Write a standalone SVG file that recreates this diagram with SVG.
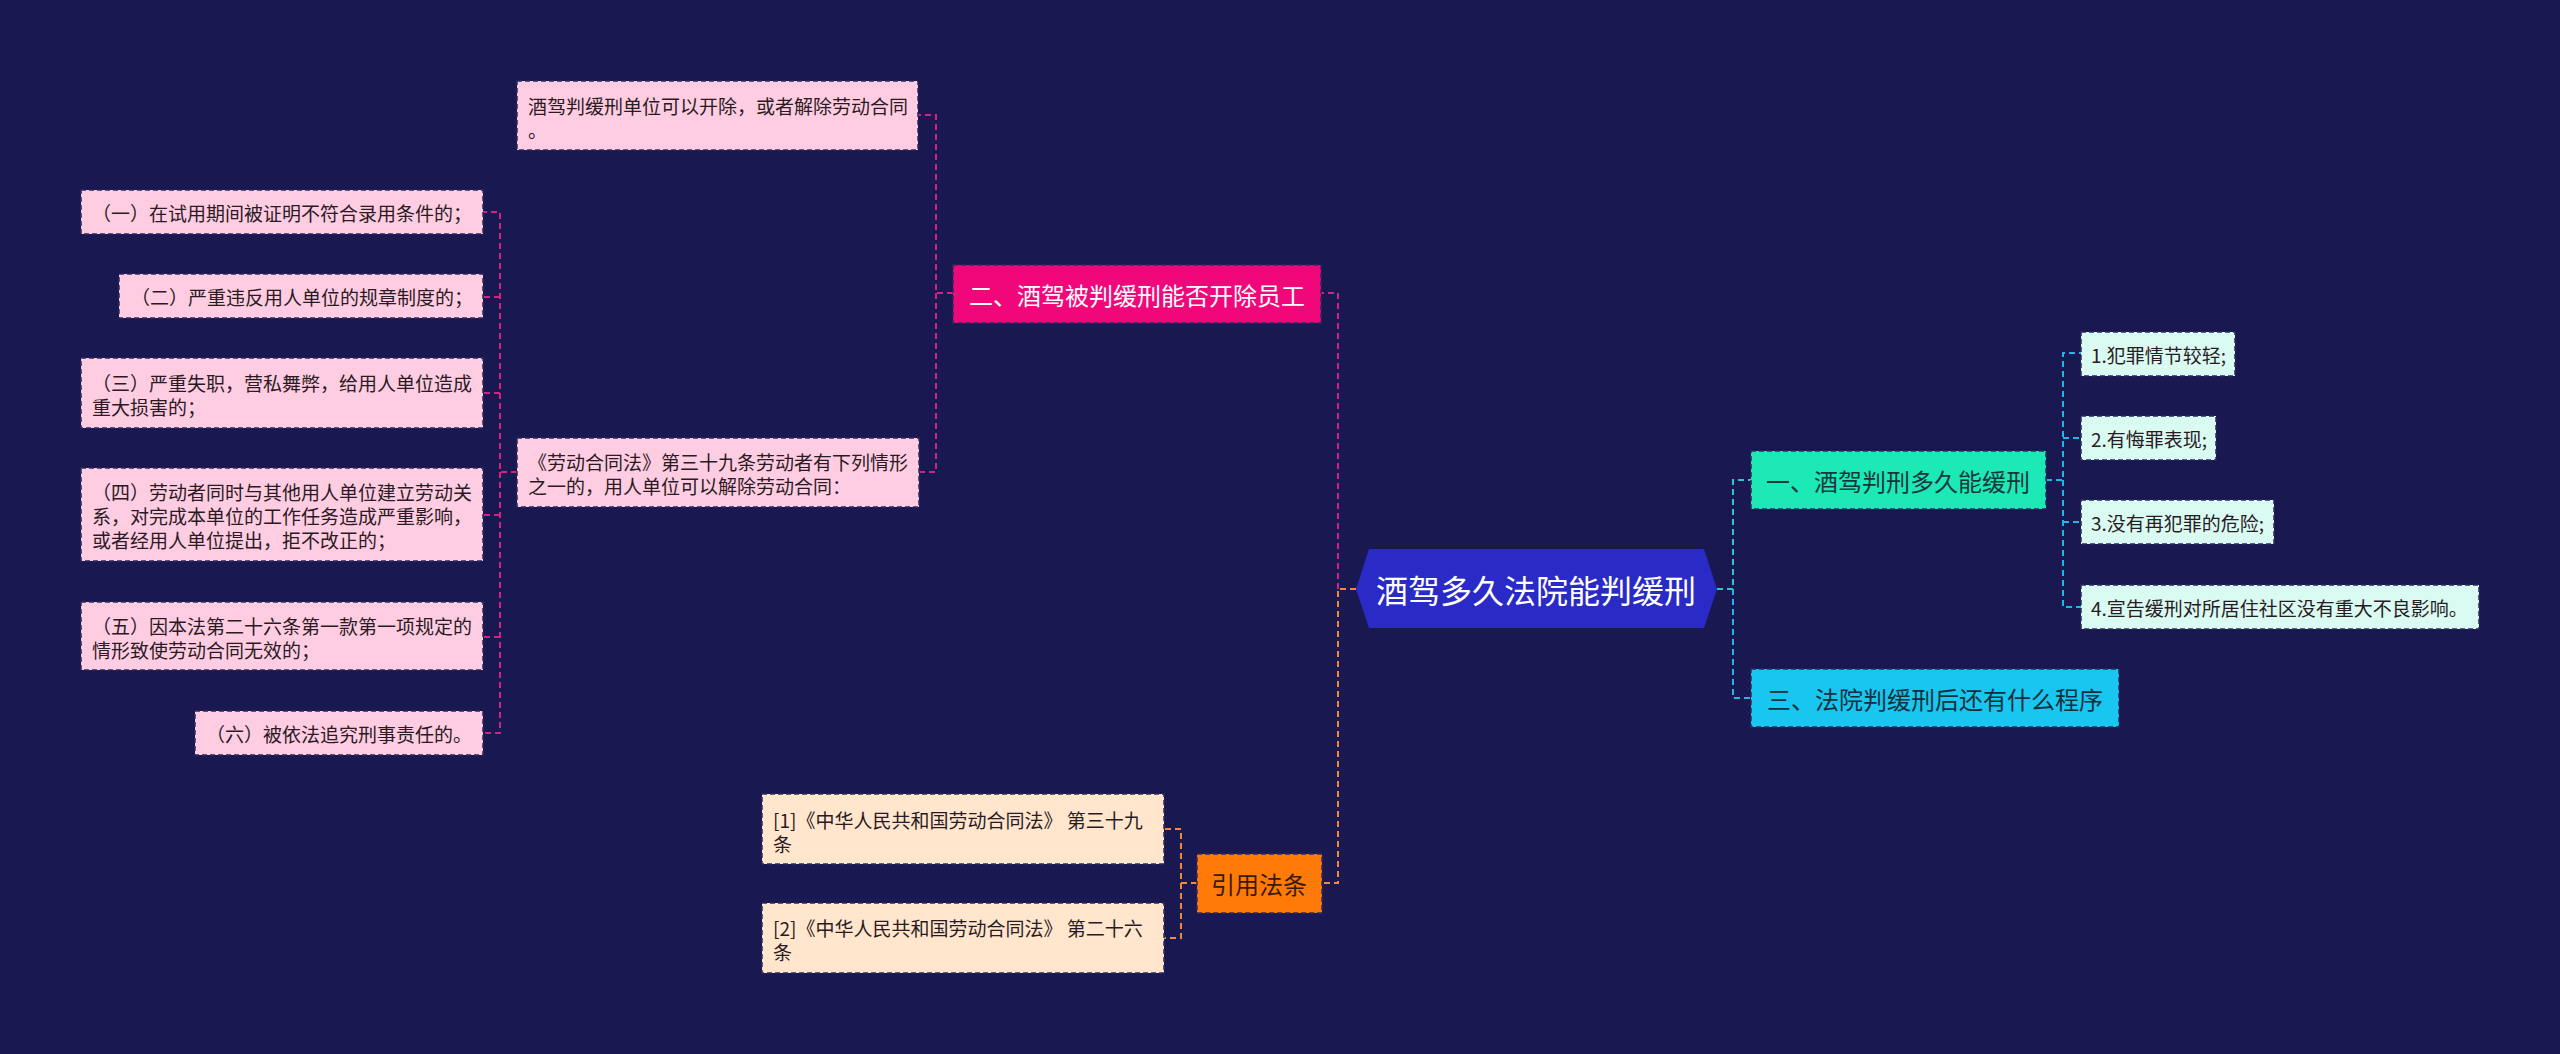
<svg xmlns="http://www.w3.org/2000/svg" width="2560" height="1054" viewBox="0 0 2560 1054">
<style>
text{font-family:"Noto Sans CJK SC","Noto Sans",sans-serif;dominant-baseline:central}
.leaf{font-size:19px;fill:#2a1a24}
.box{stroke:#2c2a5e;stroke-width:1.5;stroke-dasharray:5 3}
.pink{fill:#ffcde2}
.mint{fill:#d9fbf2}
.peach{fill:#ffe6cc}
.sub{font-size:24px}
.c{fill:none;stroke-width:2;stroke-dasharray:6 4}
.mag{stroke:#d4227f}
.org{stroke:#f08a3a}
.teal{stroke:#2ec8c8}
.blu{stroke:#22b6e6}
</style>
<rect width="2560" height="1054" fill="#1a1850"/>
<g id="connectors">
<path class="c mag" d="M1338,589 V293 H1321"/>
<path class="c mag" d="M953,293 H936 V115 H918 M936,293 V472 H919"/>
<path class="c mag" d="M517,472 H500 V212 H483 M500,297 H483 M500,393 H483 M500,472 V733 H483 M500,515 H483 M500,637 H483"/>
<path class="c org" d="M1356,589 H1338 V883 H1322"/>
<path class="c org" d="M1197,883 H1181 V829 H1164 M1181,883 V938 H1164"/>
<path class="c teal" d="M1717,589 H1733 V480 H1751"/>
<path class="c blu" d="M1733,589 V698 H1751"/>
<path class="c blu" d="M2046,480 H2063 V353 H2081 M2063,438 H2081 M2063,480 V607 H2081 M2063,522 H2081"/>
</g>
<g id="root">
<polygon points="1356,589 1369,549 1704,549 1717,589 1704,628 1369,628" fill="#2a2ac6"/>
<text x="1536" y="589" font-size="32" fill="#ffffff" text-anchor="middle">酒驾多久法院能判缓刑</text>
</g>
<g id="n2">
<rect class="box" x="953" y="265" width="368" height="58" fill="#f0087a"/>
<text class="sub" x="1137" y="294" fill="#ffffff" text-anchor="middle">二、酒驾被判缓刑能否开除员工</text>
</g>
<g id="n2a">
<rect class="box pink" x="517" y="81" width="401" height="69"/>
<text class="leaf"><tspan x="528" y="105">酒驾判缓刑单位可以开除，或者解除劳动合同</tspan><tspan x="528" y="129">。</tspan></text>
</g>
<g id="n2b">
<rect class="box pink" x="517" y="438" width="402" height="69"/>
<text class="leaf"><tspan x="528" y="461">《劳动合同法》第三十九条劳动者有下列情形</tspan><tspan x="528" y="485">之一的，用人单位可以解除劳动合同：</tspan></text>
</g>
<g id="l1">
<rect class="box pink" x="81" y="190" width="402" height="44"/>
<text class="leaf" x="92" y="212">（一）在试用期间被证明不符合录用条件的；</text>
</g>
<g id="l2">
<rect class="box pink" x="119" y="274" width="364" height="44"/>
<text class="leaf" x="131" y="296">（二）严重违反用人单位的规章制度的；</text>
</g>
<g id="l3">
<rect class="box pink" x="81" y="358" width="402" height="70"/>
<text class="leaf"><tspan x="92" y="382">（三）严重失职，营私舞弊，给用人单位造成</tspan><tspan x="92" y="406">重大损害的；</tspan></text>
</g>
<g id="l4">
<rect class="box pink" x="81" y="468" width="402" height="93"/>
<text class="leaf"><tspan x="92" y="491">（四）劳动者同时与其他用人单位建立劳动关</tspan><tspan x="92" y="515">系，对完成本单位的工作任务造成严重影响，</tspan><tspan x="92" y="539">或者经用人单位提出，拒不改正的；</tspan></text>
</g>
<g id="l5">
<rect class="box pink" x="81" y="602" width="402" height="68"/>
<text class="leaf"><tspan x="92" y="625">（五）因本法第二十六条第一款第一项规定的</tspan><tspan x="92" y="649">情形致使劳动合同无效的；</tspan></text>
</g>
<g id="l6">
<rect class="box pink" x="195" y="711" width="288" height="44"/>
<text class="leaf" x="206" y="733">（六）被依法追究刑事责任的。</text>
</g>
<g id="n3">
<rect class="box" x="1197" y="854" width="125" height="59" fill="#ff7a08"/>
<text class="sub" x="1259" y="883" fill="#3a1a00" text-anchor="middle">引用法条</text>
</g>
<g id="r1">
<rect class="box peach" x="762" y="794" width="402" height="70"/>
<text class="leaf"><tspan x="773" y="819">[1]《中华人民共和国劳动合同法》 第三十九</tspan><tspan x="773" y="843">条</tspan></text>
</g>
<g id="r2">
<rect class="box peach" x="762" y="903" width="402" height="70"/>
<text class="leaf"><tspan x="773" y="927">[2]《中华人民共和国劳动合同法》 第二十六</tspan><tspan x="773" y="951">条</tspan></text>
</g>
<g id="n1">
<rect class="box" x="1751" y="451" width="295" height="58" fill="#1de9b6"/>
<text class="sub" x="1898" y="480" fill="#16383c" text-anchor="middle">一、酒驾判刑多久能缓刑</text>
</g>
<g id="n4">
<rect class="box" x="1751" y="669" width="368" height="58" fill="#18c6ef"/>
<text class="sub" x="1935" y="698" fill="#12303e" text-anchor="middle">三、法院判缓刑后还有什么程序</text>
</g>
<g id="k1">
<rect class="box mint" x="2081" y="332" width="154" height="44"/>
<text class="leaf" x="2091" y="354">1.犯罪情节较轻;</text>
</g>
<g id="k2">
<rect class="box mint" x="2081" y="416" width="135" height="44"/>
<text class="leaf" x="2091" y="438">2.有悔罪表现;</text>
</g>
<g id="k3">
<rect class="box mint" x="2081" y="500" width="193" height="44"/>
<text class="leaf" x="2091" y="522">3.没有再犯罪的危险;</text>
</g>
<g id="k4">
<rect class="box mint" x="2081" y="585" width="398" height="44"/>
<text class="leaf" x="2091" y="607">4.宣告缓刑对所居住社区没有重大不良影响。</text>
</g>
</svg>
